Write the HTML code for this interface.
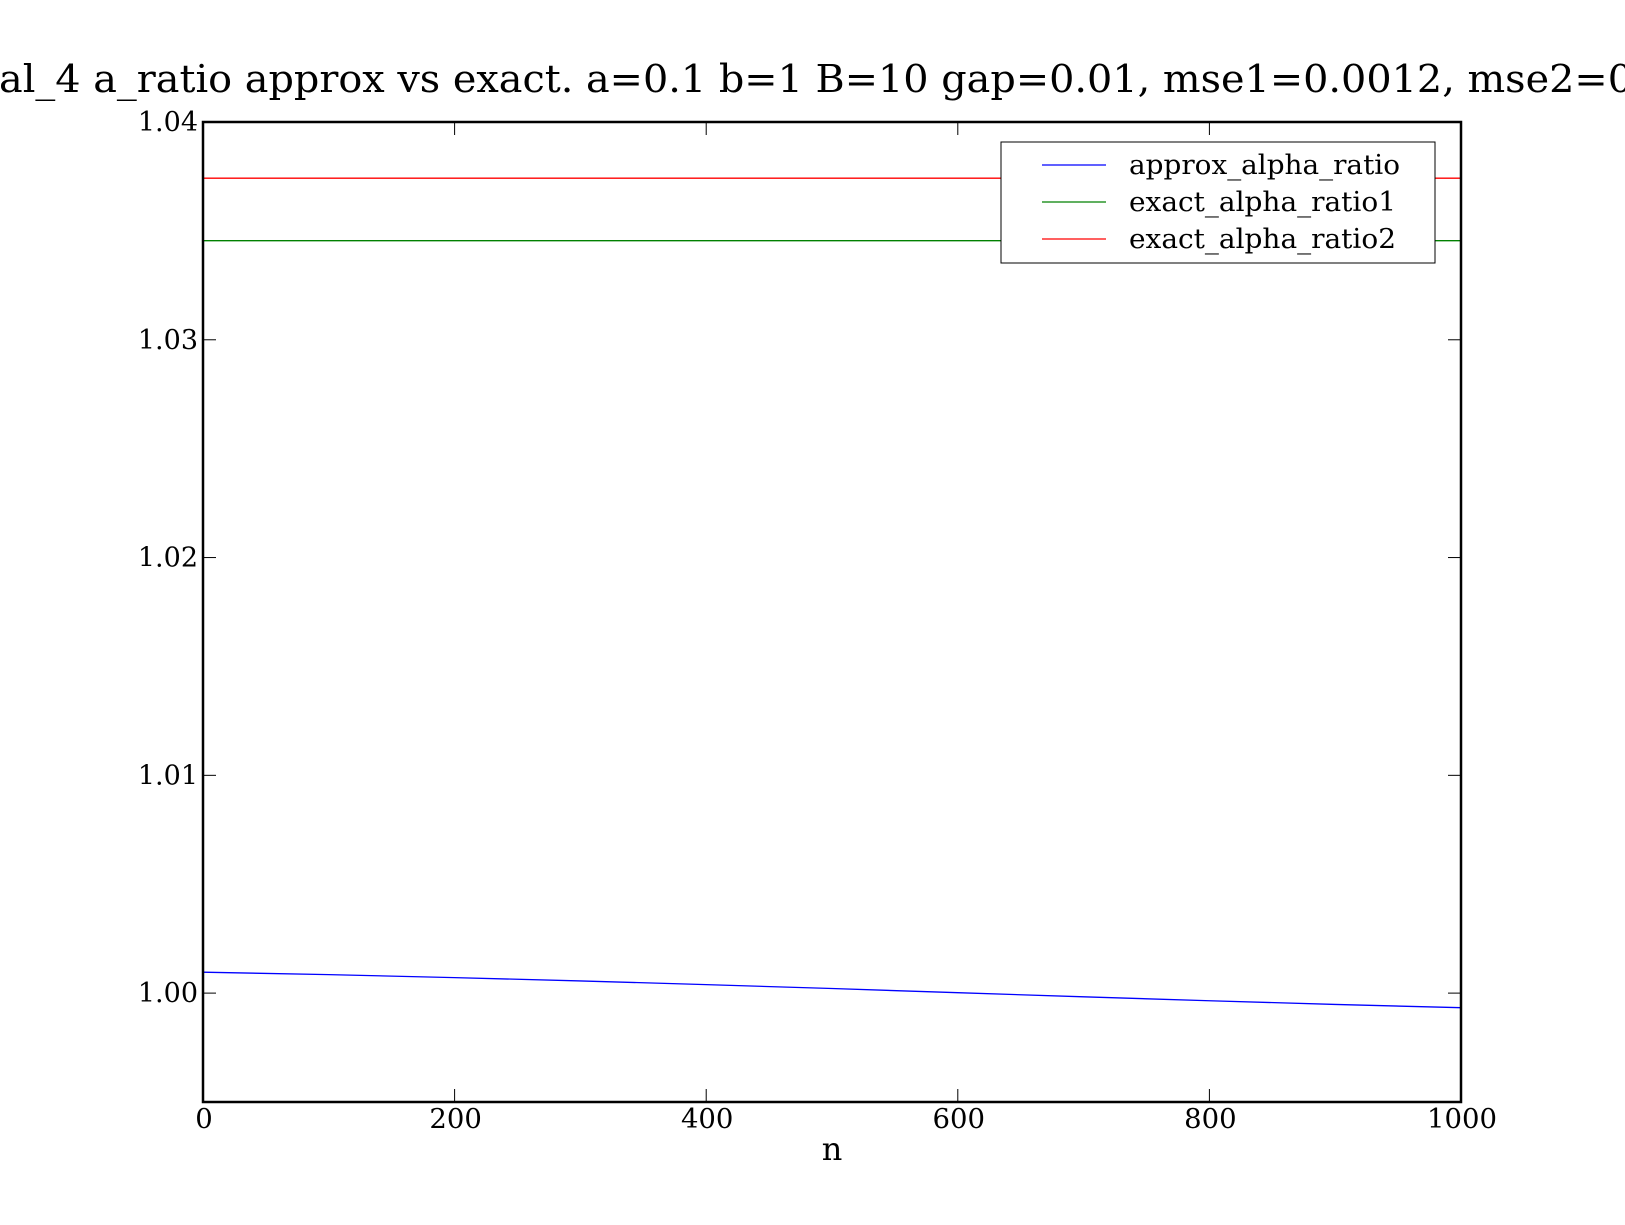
<!DOCTYPE html>
<html><head><meta charset="utf-8"><style>
html,body{margin:0;padding:0;background:#fff;}
svg{display:block;font-family:"DejaVu Serif","Liberation Serif",serif;}
</style></head><body>
<svg id="chart" width="1625" height="1225" viewBox="0 0 1625 1225">
<rect width="1625" height="1225" fill="#fff"/>
<text x="-1" y="92" font-size="38" textLength="1634" lengthAdjust="spacingAndGlyphs">al_4 a_ratio approx vs exact. a=0.1 b=1 B=10 gap=0.01, mse1=0.0012, mse2=0</text>
<g id="plot"></g>
<g id="axes"></g>
<g id="legend"></g>
</svg>
<script>
const xTicks = [0, 200, 400, 600, 800, 1000];
const yTicks = [1.00, 1.01, 1.02, 1.03, 1.04];
const yTickLabels = ["1.00", "1.01", "1.02", "1.03", "1.04"];
const approxN = [0, 100, 200, 300, 400, 500, 600, 700, 800, 900, 1000];
const approxVals = [1.00096, 1.00085, 1.00071, 1.00056, 1.00039, 1.00021, 1.00002, 0.99983, 0.99965, 0.99948, 0.99933];
const exact1Val = 1.03455;
const exact2Val = 1.03742;
const seriesNames = ["approx_alpha_ratio", "exact_alpha_ratio1", "exact_alpha_ratio2"];
const seriesColors = ["#0000ff", "#008000", "#ff0000"];

const L = 203, R = 1461, T = 122, B = 1102;
const xMin = 0, xMax = 1000, yMin = 0.995, yMax = 1.04;
const sx = v => L + (v - xMin) / (xMax - xMin) * (R - L);
const sy = v => B - (v - yMin) / (yMax - yMin) * (B - T);
const NS = "http://www.w3.org/2000/svg";
function mk(tag, attrs, parent) {
  const e = document.createElementNS(NS, tag);
  for (const k in attrs) e.setAttribute(k, attrs[k]);
  parent.appendChild(e);
  return e;
}
const plot = document.getElementById('plot');
const axes = document.getElementById('axes');
const legend = document.getElementById('legend');

const pts = approxN.map((n, i) => sx(n) + ',' + sy(approxVals[i])).join(' ');
const pl = mk('polyline', {points: pts, fill: 'none', stroke: seriesColors[0], 'stroke-width': 1.3}, plot);


const g1 = mk('line', {x1: sx(xMin), x2: sx(xMax), y1: sy(exact1Val), y2: sy(exact1Val), stroke: seriesColors[1], 'stroke-width': 1.3}, plot);


const r1 = mk('line', {x1: sx(xMin), x2: sx(xMax), y1: sy(exact2Val), y2: sy(exact2Val), stroke: seriesColors[2], 'stroke-width': 1.3}, plot);



const fr = mk('rect', {x: L, y: T, width: R - L, height: B - T, fill: 'none', stroke: '#000', 'stroke-width': 2.5}, axes);



xTicks.forEach(v => {
  const x = sx(v);
  mk('line', {x1: x, x2: x, y1: B, y2: B - 13, stroke: '#000', 'stroke-width': 1}, axes);
  mk('line', {x1: x, x2: x, y1: T, y2: T + 13, stroke: '#000', 'stroke-width': 1}, axes);
  const t = mk('text', {x: x + 1, y: 1128, 'font-size': 27.5, 'text-anchor': 'middle'}, axes);
  t.textContent = v;
  
  
});
yTicks.forEach((v, i) => {
  const y = sy(v);
  mk('line', {x1: L, x2: L + 13, y1: y, y2: y, stroke: '#000', 'stroke-width': 1}, axes);
  mk('line', {x1: R, x2: R - 13, y1: y, y2: y, stroke: '#000', 'stroke-width': 1}, axes);
  const t = mk('text', {x: 198, y: y + 9, 'font-size': 27, 'text-anchor': 'end'}, axes);
  t.textContent = yTickLabels[i];
  
  
});
const xl = mk('text', {x: (L + R) / 2, y: 1160, 'font-size': 32, 'text-anchor': 'middle'}, axes);
xl.textContent = 'n';



const lb = mk('rect', {x: 1001, y: 142, width: 434, height: 121, fill: '#fff', stroke: '#000', 'stroke-width': 1}, legend);


const legendLens = [271, 267, 267];
seriesNames.forEach((n, i) => {
  const y = 165 + i * 37;
  const ln = mk('line', {x1: 1042, x2: 1106, y1: y, y2: y, stroke: seriesColors[i], 'stroke-width': 1.3}, legend);
  
  
  const t = mk('text', {x: 1129, y: y + 9, 'font-size': 27, textLength: legendLens[i], lengthAdjust: 'spacingAndGlyphs'}, legend);
  t.textContent = n;
  
  
});
</script>
</body></html>
